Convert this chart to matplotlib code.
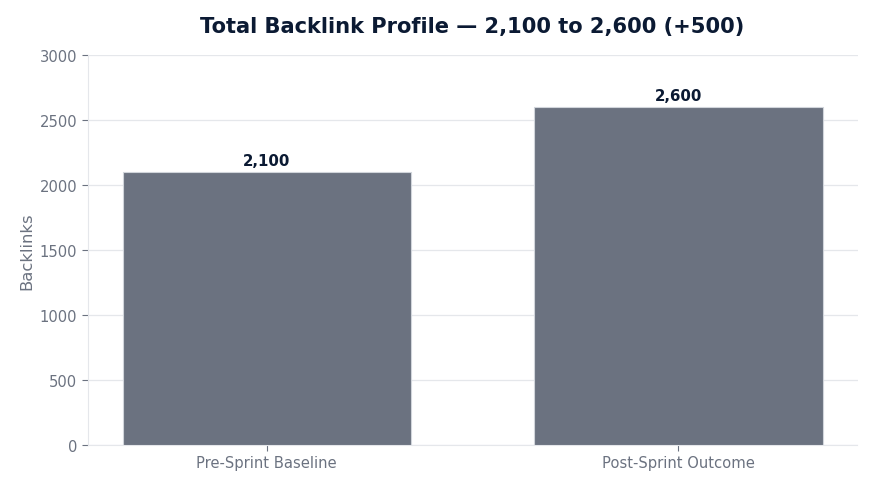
import matplotlib
matplotlib.use("Agg")
import matplotlib.pyplot as plt

categories = ["Pre-Sprint Baseline", "Post-Sprint Outcome"]
backlinks = [2100, 2600]
value_labels = ["2,100", "2,600"]
title = "Total Backlink Profile \u2014 2,100 to 2,600 (+500)"

NAVY = "#0b1a33"
GREY = "#6b7280"
LIGHT = "#e5e7eb"

fig, ax = plt.subplots(figsize=(8.75, 4.89), dpi=100)
bars = ax.bar(categories, backlinks, width=0.7, color=GREY,
              edgecolor="#d1d5db", linewidth=0.8, zorder=3)

for bar, lab in zip(bars, value_labels):
    ax.annotate(lab, (bar.get_x() + bar.get_width() / 2, bar.get_height()),
                xytext=(0, 3), textcoords="offset points",
                ha="center", va="bottom", fontsize=10.8,
                fontweight="bold", color=NAVY)

ax.set_ylim(0, 3000)
ax.set_title(title, fontsize=15.1, fontweight="bold", color=NAVY, pad=17)
ax.set_ylabel("Backlinks", fontsize=11.8, color=GREY, labelpad=4)
ax.tick_params(axis="both", colors=GREY, labelsize=10.6, length=4)
ax.grid(axis="y", color=LIGHT, linewidth=0.9, zorder=0)
for side in ["top", "right"]:
    ax.spines[side].set_visible(False)
for side in ["left", "bottom"]:
    ax.spines[side].set_color(LIGHT)

fig.subplots_adjust(left=0.1, right=0.98, top=0.885, bottom=0.088)
fig.savefig("out.png", dpi=100)
